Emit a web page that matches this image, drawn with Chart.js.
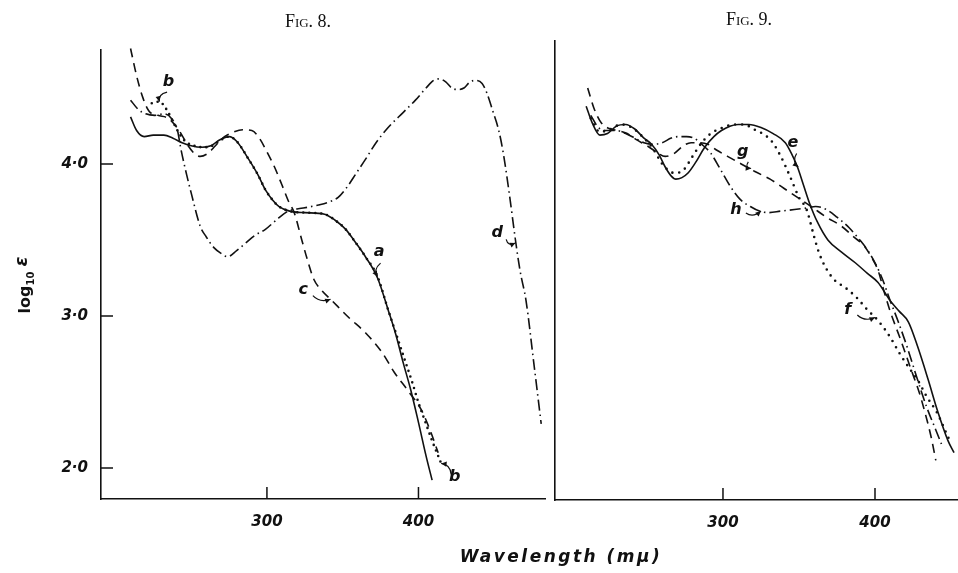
<!DOCTYPE html>
<html>
<head>
<meta charset="utf-8">
<script src="https://cdn.jsdelivr.net/npm/chart.js@4.4.1/dist/chart.umd.min.js"></script>
<style>
  html, body { margin: 0; padding: 0; background: #fff; }
  #wrap { position: relative; width: 958px; height: 573px; }
  canvas { position: absolute; left: 0; top: 0; }
</style>
</head>
<body>
<div id="wrap">
  <canvas id="fig8" width="958" height="573"></canvas>
  <canvas id="fig9" width="958" height="573"></canvas>
</div>
<script>
// values: wavelength in mμ, log10 ε

// Fig. 8
const aWave = [210, 214, 219, 225, 232, 238, 244, 250, 257, 263, 269, 275, 280, 288, 294, 299, 304, 308, 315, 325, 338, 345, 352, 358, 365, 373, 380, 385, 390, 395, 400, 405, 409];
const aLog  = [4.31, 4.22, 4.18, 4.19, 4.19, 4.17, 4.14, 4.12, 4.11, 4.12, 4.16, 4.18, 4.15, 4.03, 3.93, 3.83, 3.76, 3.72, 3.69, 3.68, 3.67, 3.63, 3.57, 3.49, 3.39, 3.25, 3.04, 2.88, 2.69, 2.51, 2.30, 2.08, 1.92];

const bWave = [224, 229, 233, 237, 241, 246, 252, 258, 264, 270, 275, 280, 288, 294, 299, 304, 308, 315, 325, 338, 345, 352, 358, 365, 373, 380, 386, 391, 396, 400, 405, 409, 415];
const bLog  = [4.40, 4.41, 4.37, 4.30, 4.22, 4.15, 4.12, 4.11, 4.12, 4.16, 4.18, 4.15, 4.03, 3.93, 3.83, 3.76, 3.72, 3.69, 3.68, 3.67, 3.63, 3.57, 3.49, 3.39, 3.26, 3.04, 2.86, 2.71, 2.56, 2.43, 2.29, 2.18, 2.03];

const cWave = [210, 214, 218, 222, 228, 235, 242, 248, 252, 256, 261, 266, 272, 278, 284, 290, 295, 300, 305, 310, 314, 318, 323, 327, 331, 336, 343, 354, 365, 376, 384, 393, 402, 408, 413];
const cLog  = [4.76, 4.58, 4.44, 4.35, 4.32, 4.30, 4.22, 4.12, 4.07, 4.05, 4.07, 4.12, 4.18, 4.21, 4.225, 4.22, 4.17, 4.08, 3.98, 3.86, 3.76, 3.68, 3.50, 3.36, 3.24, 3.17, 3.10, 2.99, 2.89, 2.76, 2.63, 2.51, 2.38, 2.24, 2.10];

const dWave = [210, 215, 220, 226, 232, 237, 241, 243, 247, 250, 256, 260, 265, 270, 274, 280, 286, 292, 299, 306, 314, 324, 334, 341, 347, 353, 359, 365, 372, 380, 390, 398, 405, 410, 414, 418, 422, 426, 430, 434, 438, 442, 445, 449, 453, 456, 460, 464, 467, 471, 476, 481];
const dLog  = [4.42, 4.36, 4.33, 4.32, 4.33, 4.30, 4.22, 4.11, 3.93, 3.81, 3.59, 3.52, 3.45, 3.41, 3.39, 3.43, 3.48, 3.53, 3.57, 3.63, 3.69, 3.71, 3.73, 3.75, 3.78, 3.85, 3.94, 4.03, 4.14, 4.24, 4.34, 4.42, 4.50, 4.55, 4.56, 4.54, 4.50, 4.49, 4.50, 4.54, 4.55, 4.53, 4.47, 4.35, 4.22, 4.07, 3.80, 3.50, 3.30, 3.10, 2.70, 2.29];

// Fig. 9
const eWave = [210, 214, 219, 224, 230, 236, 242, 248, 253, 258, 262, 266, 269, 273, 277, 282, 288, 294, 299, 305, 310, 317, 325, 333, 341, 345, 349, 353, 357, 362, 369, 378, 387, 395, 402, 410, 416, 422, 428, 435, 441, 448, 452];
const eLog  = [4.38, 4.27, 4.19, 4.20, 4.25, 4.26, 4.23, 4.17, 4.13, 4.06, 3.98, 3.92, 3.90, 3.91, 3.94, 4.01, 4.11, 4.18, 4.22, 4.25, 4.26, 4.26, 4.24, 4.20, 4.14, 4.07, 3.98, 3.86, 3.74, 3.62, 3.50, 3.42, 3.35, 3.28, 3.22, 3.10, 3.03, 2.96, 2.80, 2.58, 2.38, 2.18, 2.10];

const fWave = [213, 219, 226, 233, 240, 247, 254, 260, 264, 268, 274, 280, 286, 292, 300, 308, 314, 320, 326, 332, 338, 344, 350, 355, 360, 363, 368, 374, 380, 388, 395, 402, 410, 417, 423, 428, 434, 441, 446, 450];
const fLog  = [4.30, 4.21, 4.23, 4.26, 4.24, 4.18, 4.10, 4.00, 3.96, 3.94, 3.96, 4.05, 4.14, 4.20, 4.24, 4.26, 4.26, 4.23, 4.20, 4.15, 4.05, 3.92, 3.78, 3.70, 3.52, 3.42, 3.31, 3.23, 3.19, 3.12, 3.04, 2.97, 2.86, 2.74, 2.65, 2.58, 2.47, 2.36, 2.25, 2.16];

const gWave = [211, 215, 220, 226, 231, 237, 243, 250, 256, 262, 268, 274, 279, 285, 290, 296, 303, 312, 321, 331, 340, 349, 358, 368, 378, 386, 393, 398, 402, 406, 410, 417, 424, 429, 433, 437, 440];
const gLog  = [4.50, 4.37, 4.27, 4.23, 4.22, 4.20, 4.16, 4.12, 4.08, 4.05, 4.07, 4.12, 4.14, 4.14, 4.13, 4.09, 4.05, 4.00, 3.95, 3.90, 3.84, 3.78, 3.72, 3.65, 3.59, 3.52, 3.46, 3.38, 3.30, 3.16, 3.03, 2.84, 2.64, 2.50, 2.36, 2.20, 2.05];

const hWave = [213, 218, 224, 230, 236, 242, 248, 254, 260, 266, 271, 276, 281, 286, 292, 298, 305, 311, 318, 324, 330, 338, 347, 355, 361, 368, 375, 383, 390, 396, 401, 405, 410, 415, 421, 428, 434, 440, 444];
const hLog  = [4.32, 4.24, 4.22, 4.22, 4.20, 4.17, 4.14, 4.13, 4.14, 4.17, 4.18, 4.18, 4.17, 4.13, 4.07, 3.97, 3.85, 3.77, 3.72, 3.69, 3.68, 3.69, 3.70, 3.71, 3.72, 3.70, 3.65, 3.58, 3.50, 3.42, 3.33, 3.24, 3.10, 2.97, 2.80, 2.58, 2.40, 2.25, 2.15];

// axis ticks
const waveTicks = [300, 400];
const logTicks = [2, 3, 4];

// curve letters: where the letter sits and where its little arrow points
const fig8Letters = [
  { text: 'a', at: [374, 3.42], to: [373, 3.26] },
  { text: 'b', at: [235, 4.54], to: [229, 4.41] },
  { text: 'b', at: [424, 1.94], to: [415, 2.03] },
  { text: 'c', at: [324, 3.17], to: [342, 3.11] },
  { text: 'd', at: [452, 3.55], to: [464, 3.48] }
];
const fig9Letters = [
  { text: 'e', at: [346, 4.14], to: [349.5, 3.98] },
  { text: 'g', at: [313, 4.08], to: [318.5, 3.97] },
  { text: 'h', at: [308.5, 3.70], to: [325, 3.69] },
  { text: 'f', at: [382, 3.04], to: [400, 2.99] }
];

const ink = '#111';
const handFont = "'DejaVu Sans', sans-serif";

function curve(label, wave, logE, dash, width, cap) {
  return {
    label: label,
    data: wave.map((w, i) => ({ x: w, y: logE[i] })),
    borderColor: ink,
    borderWidth: width,
    borderDash: dash,
    borderCapStyle: cap || 'butt',
    pointRadius: 0,
    fill: false,
    cubicInterpolationMode: 'monotone',
    clip: 12
  };
}

function drawLetter(ctx, chart, lab) {
  const x = chart.scales.x, y = chart.scales.y;
  const cx = x.getPixelForValue(lab.at[0]), cy = y.getPixelForValue(lab.at[1]);
  const tx = x.getPixelForValue(lab.to[0]), ty = y.getPixelForValue(lab.to[1]);
  ctx.font = "italic bold 16px " + handFont;
  ctx.textAlign = 'center';
  ctx.textBaseline = 'middle';
  ctx.fillText(lab.text, cx, cy);
  // squiggly pointer
  const dx = tx - cx, dy = ty - cy, d = Math.hypot(dx, dy);
  const ux = dx / d, uy = dy / d;
  const sx = cx + ux * 8 + 2, sy = cy + uy * 8 + 3;
  const mx = (sx + tx) / 2 - uy * 6, my = (sy + ty) / 2 + ux * 6;
  ctx.lineWidth = 1.2;
  ctx.beginPath();
  ctx.moveTo(sx, sy);
  ctx.quadraticCurveTo(mx, my, tx, ty);
  ctx.stroke();
  const ang = Math.atan2(ty - my, tx - mx);
  ctx.beginPath();
  ctx.moveTo(tx, ty);
  ctx.lineTo(tx - 6 * Math.cos(ang - 0.45), ty - 6 * Math.sin(ang - 0.45));
  ctx.lineTo(tx - 6 * Math.cos(ang + 0.45), ty - 6 * Math.sin(ang + 0.45));
  ctx.closePath();
  ctx.fill();
}

const figureDecor = {
  id: 'figureDecor',
  afterDraw(chart, args, opts) {
    const ctx = chart.ctx, area = chart.chartArea;
    const x = chart.scales.x, y = chart.scales.y;
    ctx.save();
    ctx.strokeStyle = ink;
    ctx.fillStyle = ink;

    // inward tick marks
    ctx.lineWidth = 1.5;
    ctx.beginPath();
    for (const v of opts.yTicks) {
      const py = y.getPixelForValue(v);
      ctx.moveTo(area.left, py);
      ctx.lineTo(area.left + 12, py);
    }
    for (const v of waveTicks) {
      const px = x.getPixelForValue(v);
      ctx.moveTo(px, area.bottom);
      ctx.lineTo(px, area.bottom - 12);
    }
    ctx.stroke();

    // figure heading
    ctx.font = "small-caps 18px 'Liberation Serif', serif";
    ctx.textAlign = 'center';
    ctx.textBaseline = 'middle';
    ctx.fillText(opts.title, opts.titleX, opts.titleY);

    opts.letters.forEach(l => drawLetter(ctx, chart, l));

    if (opts.axisTitles) {
      // x title spans both panels
      ctx.font = "italic bold 17px " + handFont;
      ctx.letterSpacing = '2.5px';
      ctx.textAlign = 'center';
      ctx.textBaseline = 'middle';
      ctx.fillText('Wavelength (mμ)', 561, 558);
      ctx.letterSpacing = '0px';

      // y title, rotated
      ctx.translate(30, 285);
      ctx.rotate(-Math.PI / 2);
      ctx.textAlign = 'left';
      ctx.textBaseline = 'alphabetic';
      const f1 = "bold 16px " + handFont, f2 = "bold 10px " + handFont, f3 = "italic bold 18px " + handFont;
      ctx.font = f1; const w1 = ctx.measureText('log').width;
      ctx.font = f2; const w2 = ctx.measureText('10').width;
      ctx.font = f3; const w3 = ctx.measureText('ε').width;
      let x0 = -(w1 + w2 + 5 + w3) / 2;
      ctx.font = f1; ctx.fillText('log', x0, 0); x0 += w1;
      ctx.font = f2; ctx.fillText('10', x0, 4); x0 += w2 + 5;
      ctx.font = f3; ctx.fillText('ε', x0, -3);
    }
    ctx.restore();
  }
};

const tickFont = { family: handFont, size: 15, style: 'italic', weight: 'bold' };

function panelOptions(cfg) {
  return {
    responsive: false,
    animation: false,
    events: [],
    layout: { padding: cfg.padding },
    plugins: {
      legend: { display: false },
      tooltip: { enabled: false },
      title: { display: false },
      figureDecor: cfg.decor
    },
    scales: {
      x: {
        type: 'linear',
        min: cfg.xMin,
        max: cfg.xMax,
        grid: { display: false, drawTicks: false },
        border: { display: true, color: ink, width: 1.6 },
        afterBuildTicks: s => { s.ticks = waveTicks.map(v => ({ value: v })); },
        ticks: { color: ink, padding: 14, font: tickFont, maxRotation: 0, autoSkip: false },
        afterFit: s => { s.height = cfg.xHeight; }
      },
      y: {
        type: 'linear',
        min: cfg.yMin,
        max: cfg.yMax,
        grid: { display: false, drawTicks: false },
        border: { display: true, color: ink, width: 1.6 },
        afterBuildTicks: s => { s.ticks = cfg.yTicks.map(v => ({ value: v })); },
        ticks: {
          display: cfg.yTicks.length > 0,
          color: ink, padding: 13, font: tickFont,
          callback: v => v.toFixed(1).replace('.', '·')
        },
        afterFit: s => { s.width = cfg.yWidth; }
      }
    }
  };
}

new Chart(document.getElementById('fig8'), {
  type: 'line',
  data: {
    datasets: [
      curve('a', aWave, aLog, [], 1.6),
      curve('b', bWave, bLog, [0, 6], 2.6, 'round'),
      curve('c', cWave, cLog, [9, 6], 1.6),
      curve('d', dWave, dLog, [11, 4, 1.5, 4], 1.6)
    ]
  },
  options: panelOptions({
    padding: { left: 0, right: 413, top: 50, bottom: 0 },
    xMin: 190.5, xMax: 483.5, yMin: 1.796, yMax: 4.75,
    xHeight: 74, yWidth: 101, yTicks: logTicks,
    decor: { title: 'Fig. 8.', titleX: 308, titleY: 22, letters: fig8Letters, yTicks: logTicks, axisTitles: true }
  }),
  plugins: [figureDecor]
});

new Chart(document.getElementById('fig9'), {
  type: 'line',
  data: {
    datasets: [
      curve('e', eWave, eLog, [], 1.6),
      curve('f', fWave, fLog, [0, 7], 2.6, 'round'),
      curve('g', gWave, gLog, [9, 6], 1.6),
      curve('h', hWave, hLog, [11, 4, 1.5, 4], 1.6)
    ]
  },
  options: panelOptions({
    padding: { left: 555, right: 0, top: 41, bottom: 0 },
    xMin: 189.5, xMax: 454.6, yMin: 1.789, yMax: 4.809,
    xHeight: 73, yWidth: 0, yTicks: [],
    decor: { title: 'Fig. 9.', titleX: 749, titleY: 20, letters: fig9Letters, yTicks: [], axisTitles: false }
  }),
  plugins: [figureDecor]
});
</script>
</body>
</html>
